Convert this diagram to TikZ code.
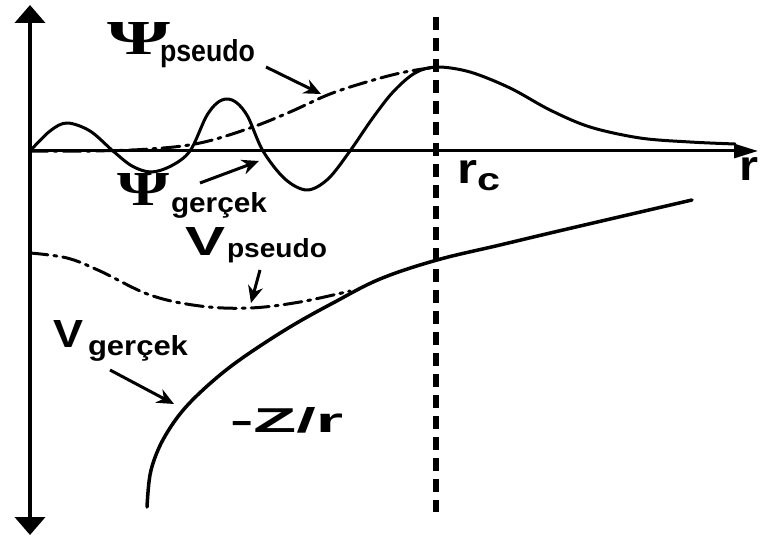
\documentclass[tikz,border=0pt]{standalone}
\usepackage{fontspec}
\setmainfont{Liberation Sans}
\newfontfamily\psifont{Liberation Serif}
\usepackage{graphicx}
\usetikzlibrary{arrows.meta}
\tikzset{
  vaxis/.style={line width=4pt, {Triangle[width=30pt,length=18pt]}-{Triangle[width=30pt,length=18pt]}},
  haxis/.style={line width=3pt, -{Triangle[width=14pt,length=24pt]}},
  curve/.style={line width=3pt, line cap=round, line join=round},
  dashdot/.style={curve, dash pattern=on 18pt off 6pt on 3pt off 6pt},
  rcline/.style={line width=6pt, dash pattern=on 13pt off 8pt},
  lblarrow/.style={line width=3pt, -{Stealth[length=17pt,width=15pt]}},
  lbl/.style={anchor=base west, inner sep=0pt, outer sep=0pt},
}
\begin{document}
\begin{tikzpicture}[x=1pt,y=-1pt]
\useasboundingbox (0,0) rectangle (760,540);
% axes
\coordinate (vtop) at (30,5);
\coordinate (vbot) at (30,535);
\coordinate (orig) at (30,151);
\coordinate (hend) at (758,151);
\draw[vaxis] (vtop) -- (vbot);
\draw[haxis] (orig) -- (hend);
% r_c dashed line
\coordinate (rctop) at (436,17);
\coordinate (rcbot) at (436,512);
\draw[rcline] (rctop) -- (rcbot);
% real wavefunction
\draw[curve] plot[smooth, tension=0.55] coordinates {
 (30,151) (50,131) (67,123) (90,131) (113,151)
 (132,166) (151,172) (171,166) (190,151)
 (206,117) (217,103) (227,99) (237,103) (248,117) (263,151)
 (285,179) (307,190) (328,179) (350,151)
 (372,119) (393,92) (415,73) (437,67) (470,72) (510,88) (550,110)
 (590,127) (640,138) (690,142) (735,144)};
% pseudo wavefunction
\draw[dashdot] plot[smooth, tension=0.6] coordinates {
 (30,151) (90,151) (150,149) (200,143) (250,128) (290,112) (330,94) (370,81)
 (405,72) (437,67)};
% real potential
\draw[curve, line width=3.5pt] plot[smooth, tension=0.6] coordinates {
 (147,507) (150,475) (158,450) (170,428) (185,408) (205,388) (230,367)
 (260,346) (295,324) (333,303) (380,279) (437,260) (500,245) (563,230) (692,200)};
% pseudo potential
\draw[dashdot] plot[smooth, tension=0.6] coordinates {
 (30,253) (67,258) (100,271) (150,295) (200,306) (250,308) (300,302) (350,291)};
% labels
\node[lbl] (psiP) at (107,55) {\resizebox{63pt}{32pt}{\psifont\bfseries Ψ}};
\node[lbl] (psiPsub) at (160,62) {\resizebox{95pt}{22pt}{\bfseries pseudo}};
\node[lbl] (psiG) at (117,205) {\resizebox{52pt}{32pt}{\psifont\bfseries Ψ}};
\node[lbl] (psiGsub) at (171,213) {\resizebox{96pt}{20pt}{\bfseries gerçek}};
\node[lbl] (vP) at (185,255) {\resizebox{40pt}{28pt}{\bfseries V}};
\node[lbl] (vPsub) at (227,257) {\resizebox{100pt}{19pt}{\bfseries pseudo}};
\node[lbl] (vG) at (53,347) {\resizebox{30pt}{27pt}{\bfseries V}};
\node[lbl] (vGsub) at (88,355) {\resizebox{100pt}{20pt}{\bfseries gerçek}};
\node[lbl] (zr) at (230,432) {\resizebox{113pt}{25pt}{\bfseries -Z/r}};
\node[lbl] (rc) at (457,183) {\resizebox{20pt}{23pt}{\bfseries r}};
\node[lbl] (rcsub) at (477,190) {\resizebox{23pt}{17pt}{\bfseries c}};
\node[lbl] (rlab) at (739,180) {\resizebox{19pt}{23pt}{\bfseries r}};
% label arrows
\coordinate (a1s) at (266,67);  \coordinate (a1e) at (321,94);
\coordinate (a2s) at (200,183); \coordinate (a2e) at (259,161);
\coordinate (a3s) at (260,270); \coordinate (a3e) at (251,303);
\coordinate (a4s) at (110,370); \coordinate (a4e) at (174,404);
\draw[lblarrow] (a1s) -- (a1e);
\draw[lblarrow] (a2s) -- (a2e);
\draw[lblarrow] (a3s) -- (a3e);
\draw[lblarrow] (a4s) -- (a4e);
\end{tikzpicture}
\end{document}
